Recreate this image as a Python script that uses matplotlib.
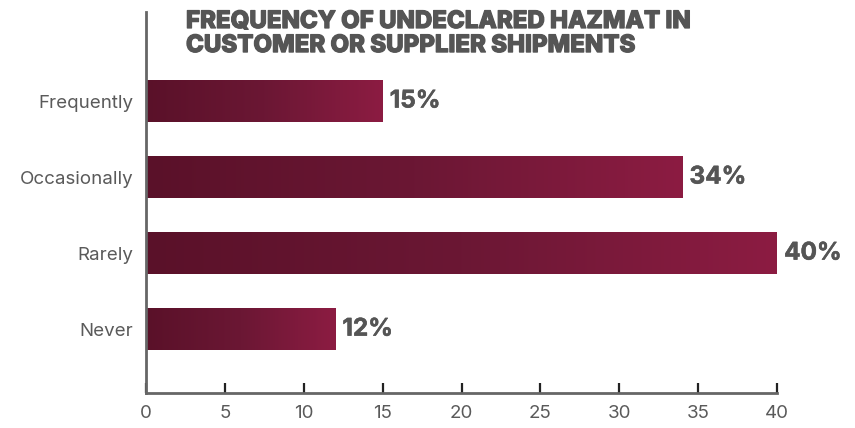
import matplotlib.pyplot as plt
import matplotlib.patheffects as pe
import numpy as np
from matplotlib.colors import LinearSegmentedColormap

categories = ["Never", "Rarely", "Occasionally", "Frequently"]
values = [12, 40, 34, 15]
xticks = [0, 5, 10, 15, 20, 25, 30, 35, 40]

plt.rcParams['font.family'] = ['Inter', 'DejaVu Sans']

grad = LinearSegmentedColormap.from_list("wine", ["#5a1129", "#6b1734", "#8c1c42"])
thick = [pe.withStroke(linewidth=0.9, foreground="#555555")]
semi = [pe.withStroke(linewidth=0.4, foreground="#555555")]

fig = plt.figure(figsize=(8.55, 4.28), dpi=100)
ax = fig.add_axes([0.1708, 0.0818, 0.738, 0.890])

y = np.arange(len(categories))
bars = ax.barh(y, values, height=0.54, color="none")

# fill every bar with its own left-to-right gradient
ramp = np.linspace(0, 1, 256).reshape(1, -1)
for b in bars:
    x0, y0 = b.get_x(), b.get_y()
    ax.imshow(ramp, cmap=grad, aspect="auto", interpolation="bicubic",
              extent=(x0, x0 + b.get_width(), y0, y0 + b.get_height()), zorder=2)

for yi, v in zip(y, values):
    ax.text(v + 0.45, yi, f"{v}%", va="center", ha="left", fontsize=17.5,
            fontweight="bold", color="#555555", path_effects=semi)

ax.set_xlim(0, 40)
ax.set_ylim(-0.84, 4.17)
ax.set_yticks(y)
ax.set_yticklabels(categories, fontsize=13.5, color="#5a5a5a")
ax.set_xticks(xticks)
ax.set_xticklabels([str(t) for t in xticks], fontsize=13.5, color="#5a5a5a")
ax.tick_params(axis="y", length=0, pad=9)
ax.tick_params(axis="x", direction="in", length=7, width=1.6, color="#222222", pad=9)

for s in ["top", "right"]:
    ax.spines[s].set_visible(False)
for s in ["left", "bottom"]:
    ax.spines[s].set_color("#666666")
    ax.spines[s].set_linewidth(2)

fig.text(186 / 855, 1 - 11 / 428,
         "FREQUENCY OF UNDECLARED HAZMAT IN\nCUSTOMER OR SUPPLIER SHIPMENTS",
         ha="left", va="top", fontsize=17.3, fontweight="heavy", color="#555555",
         linespacing=1.12, path_effects=thick)

fig.savefig("out.png", dpi=100)
